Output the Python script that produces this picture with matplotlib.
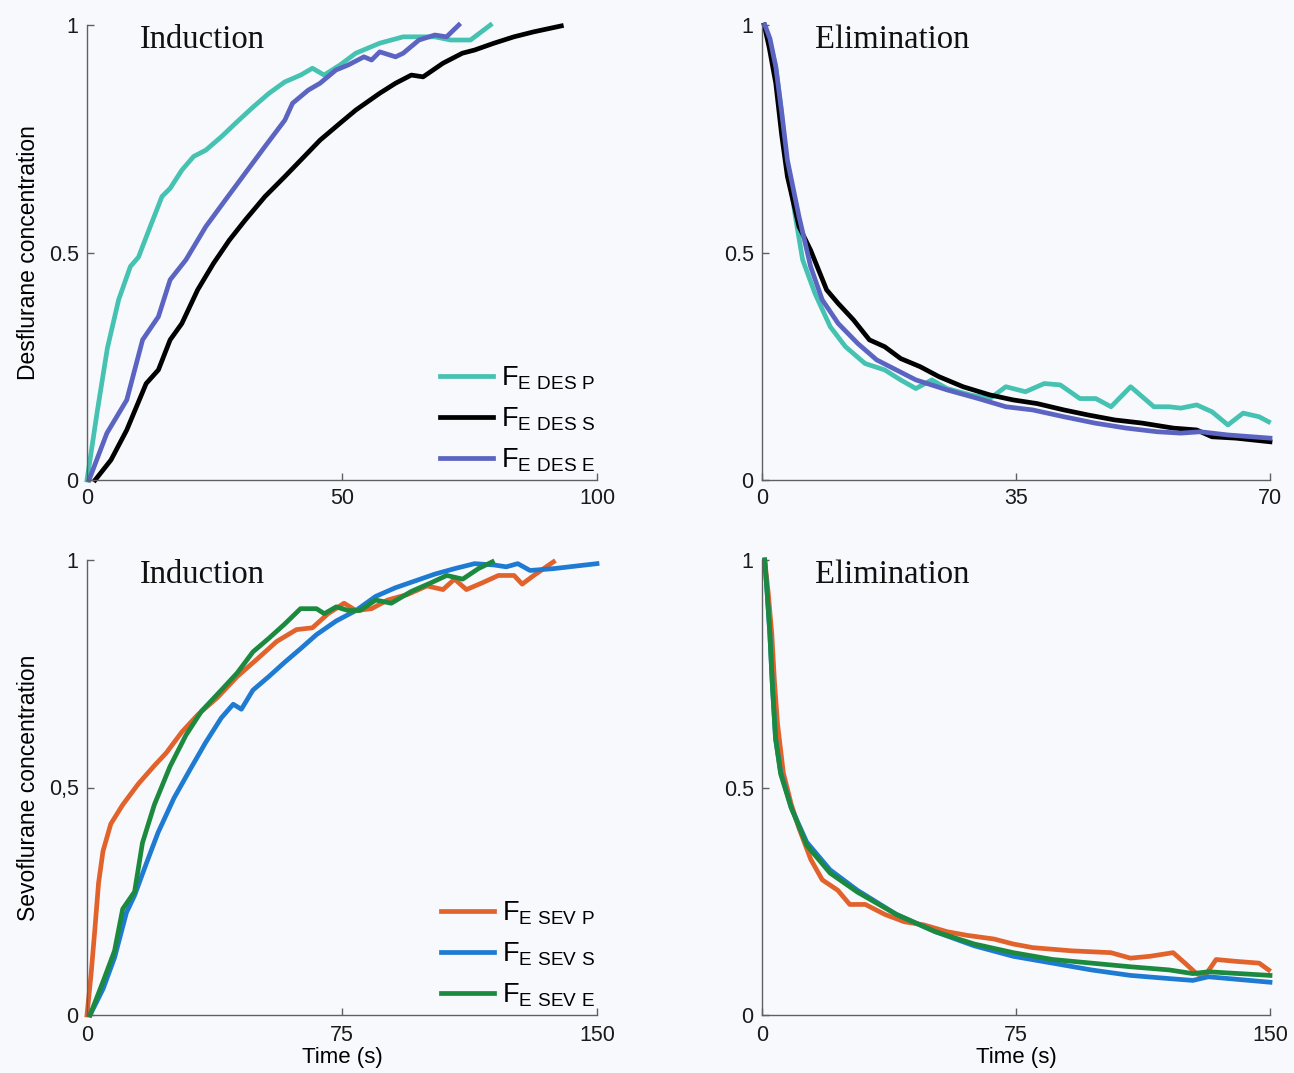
import matplotlib.pyplot as plt
import numpy as np

plt.rcParams['font.family'] = ['Liberation Sans', 'DejaVu Sans']
plt.rcParams['mathtext.fontset'] = 'custom'
plt.rcParams['mathtext.rm'] = 'Liberation Sans'

# ---- desflurane induction ----
des_ind_p_t = [0, 2.0, 4.0, 6.2, 8.5, 10.1, 12.4, 14.7, 16.3, 18.6, 20.9, 23.3, 26.4, 29.5, 32.6, 35.7,
               38.8, 41.9, 44.2, 46.5, 49.6, 52.7, 57.4, 62.0, 68.2, 71.3, 75.2, 79.1]
des_ind_p_y = [0, 0.15, 0.29, 0.396, 0.469, 0.49, 0.557, 0.623, 0.641, 0.681, 0.711, 0.725, 0.755, 0.788,
               0.82, 0.85, 0.875, 0.89, 0.905, 0.89, 0.912, 0.938, 0.96, 0.974, 0.974, 0.967, 0.967, 1.0]
des_ind_s_t = [1.6, 4.7, 7.8, 11.6, 14.0, 16.3, 18.6, 21.7, 24.8, 27.9, 31.0, 34.9, 38.8, 42.6, 45.7,
               49.6, 52.7, 57.4, 60.5, 63.6, 65.9, 69.8, 73.6, 76.0, 79.8, 83.7, 87.6, 93.0]
des_ind_s_y = [0, 0.044, 0.11, 0.212, 0.242, 0.308, 0.344, 0.418, 0.476, 0.527, 0.571, 0.623, 0.667,
               0.711, 0.747, 0.784, 0.813, 0.85, 0.872, 0.89, 0.886, 0.916, 0.938, 0.945, 0.96, 0.974,
               0.985, 0.998]
des_ind_e_t = [0.4, 3.9, 7.8, 10.9, 14.0, 16.3, 19.4, 23.3, 27.1, 31.0, 34.9, 38.8, 40.3, 43.4, 45.7,
               48.8, 51.2, 54.3, 55.8, 57.4, 60.5, 62.0, 65.1, 68.2, 70.5, 72.9]
des_ind_e_y = [0, 0.103, 0.176, 0.308, 0.359, 0.44, 0.484, 0.557, 0.615, 0.674, 0.733, 0.791, 0.828,
               0.857, 0.872, 0.901, 0.912, 0.93, 0.923, 0.941, 0.93, 0.938, 0.967, 0.978, 0.974, 1.0]

# ---- desflurane elimination ----
des_eli_p_t = [0.3, 1.0, 1.9, 2.6, 3.2, 4.6, 5.6, 7.3, 9.4, 11.5, 14.2, 16.9, 19.1, 21.2, 23.4, 25.5,
               28.7, 31.4, 33.6, 36.3, 38.9, 41.1, 43.8, 46.0, 48.1, 50.8, 54.0, 56.1, 57.7, 59.9,
               62.0, 64.2, 66.3, 68.5, 69.8]
des_eli_p_y = [1.0, 0.97, 0.908, 0.82, 0.725, 0.579, 0.484, 0.41, 0.337, 0.293, 0.256, 0.242, 0.22,
               0.201, 0.22, 0.201, 0.187, 0.179, 0.205, 0.194, 0.212, 0.209, 0.179, 0.179, 0.161,
               0.205, 0.161, 0.161, 0.158, 0.165, 0.15, 0.121, 0.147, 0.139, 0.128]
des_eli_s_t = [0.3, 1.0, 1.9, 2.7, 3.5, 5.1, 6.7, 8.9, 10.5, 12.6, 14.8, 16.9, 19.1, 21.8, 24.4, 27.7,
               31.4, 34.6, 37.9, 41.6, 44.9, 48.6, 52.4, 56.7, 59.9, 62.0, 65.3, 70.0]
des_eli_s_y = [1.0, 0.95, 0.872, 0.76, 0.667, 0.557, 0.505, 0.418, 0.388, 0.352, 0.308, 0.293, 0.267,
               0.249, 0.227, 0.205, 0.187, 0.176, 0.168, 0.154, 0.143, 0.132, 0.125, 0.114, 0.11,
               0.095, 0.092, 0.084]
des_eli_e_t = [0.4, 1.1, 1.9, 2.7, 3.5, 5.1, 6.7, 8.3, 10.5, 13.2, 15.8, 18.5, 21.2, 25.5, 29.8, 33.6,
               37.3, 41.6, 45.9, 50.2, 54.5, 57.7, 60.4, 64.2, 70.0]
des_eli_e_y = [1.0, 0.97, 0.908, 0.81, 0.703, 0.579, 0.469, 0.396, 0.344, 0.3, 0.264, 0.242, 0.22,
               0.198, 0.179, 0.161, 0.154, 0.139, 0.125, 0.114, 0.106, 0.103, 0.106, 0.099, 0.092]

# ---- sevoflurane induction ----
sev_ind_p_t = [0, 1.2, 2.3, 3.4, 4.7, 7.0, 10.5, 15.1, 19.8, 23.3, 27.9, 32.6, 38.4, 44.2, 50.0, 55.8,
               61.6, 66.3, 70.9, 75.6, 79.1, 83.7, 88.4, 94.2, 100.0, 104.7, 108.1, 111.6, 116.3,
               121.0, 125.6, 128.0, 131.4, 137.2]
sev_ind_p_y = [0, 0.09, 0.187, 0.29, 0.36, 0.42, 0.462, 0.508, 0.548, 0.576, 0.622, 0.66, 0.698, 0.744,
               0.782, 0.821, 0.847, 0.851, 0.882, 0.905, 0.889, 0.893, 0.912, 0.924, 0.943, 0.935,
               0.958, 0.935, 0.95, 0.966, 0.966, 0.947, 0.966, 0.996]
sev_ind_s_t = [0.9, 4.7, 8.1, 11.6, 14.0, 17.4, 20.9, 25.6, 30.2, 34.9, 39.5, 43.0, 45.4, 48.8, 53.5,
               58.1, 62.8, 67.5, 73.3, 79.1, 84.9, 90.7, 96.5, 102.3, 108.1, 114.0, 119.8, 123.3,
               126.7, 130.3, 137.2, 150.0]
sev_ind_s_y = [0, 0.057, 0.126, 0.225, 0.263, 0.332, 0.401, 0.477, 0.538, 0.599, 0.653, 0.683, 0.672,
               0.714, 0.744, 0.775, 0.805, 0.836, 0.866, 0.889, 0.92, 0.939, 0.954, 0.969, 0.981,
               0.992, 0.989, 0.985, 0.992, 0.977, 0.981, 0.992]
sev_ind_e_t = [0.9, 4.7, 8.1, 10.5, 14.0, 16.3, 19.8, 24.4, 29.1, 33.7, 39.5, 44.2, 48.8, 53.5, 58.1,
               62.8, 67.5, 69.8, 73.3, 76.8, 80.3, 84.9, 89.5, 95.4, 101.2, 105.8, 110.5, 115.1, 119.2]
sev_ind_e_y = [0, 0.073, 0.141, 0.233, 0.271, 0.378, 0.462, 0.546, 0.615, 0.668, 0.714, 0.752, 0.798,
               0.828, 0.859, 0.893, 0.893, 0.882, 0.897, 0.889, 0.889, 0.912, 0.905, 0.931, 0.95,
               0.966, 0.958, 0.981, 0.996]

# ---- sevoflurane elimination ----
sev_eli_p_t = [0.8, 1.8, 2.9, 3.7, 4.6, 6.3, 8.6, 10.9, 14.4, 17.8, 22.4, 25.9, 30.5, 36.3, 42.0, 47.8,
               54.7, 60.6, 68.5, 74.2, 80.0, 91.5, 103.0, 108.8, 114.5, 121.4, 124.9, 128.3, 130.6,
               134.1, 139.8, 146.8, 149.6]
sev_eli_p_y = [1.0, 0.93, 0.837, 0.73, 0.639, 0.532, 0.464, 0.411, 0.342, 0.297, 0.274, 0.243, 0.243,
               0.221, 0.205, 0.198, 0.183, 0.175, 0.167, 0.156, 0.148, 0.141, 0.137, 0.125, 0.129,
               0.137, 0.114, 0.091, 0.084, 0.122, 0.118, 0.114, 0.099]
sev_eli_s_t = [0.8, 1.5, 2.3, 3.1, 4.0, 5.5, 8.6, 13.2, 20.1, 28.2, 39.7, 51.2, 62.7, 74.2, 85.8, 97.3,
               108.8, 120.3, 127.2, 131.8, 150.0]
sev_eli_s_y = [1.0, 0.93, 0.84, 0.72, 0.608, 0.535, 0.456, 0.38, 0.319, 0.274, 0.221, 0.183, 0.152,
               0.129, 0.114, 0.099, 0.087, 0.08, 0.076, 0.084, 0.072]
sev_eli_e_t = [0.8, 1.5, 2.3, 3.1, 4.0, 5.5, 8.6, 13.2, 20.1, 28.2, 39.7, 51.2, 62.7, 74.2, 85.8, 97.3,
               108.8, 120.3, 127.2, 131.8, 150.0]
sev_eli_e_y = [1.0, 0.93, 0.84, 0.72, 0.608, 0.53, 0.456, 0.373, 0.312, 0.27, 0.221, 0.183, 0.156,
               0.137, 0.122, 0.114, 0.106, 0.099, 0.091, 0.095, 0.087]

des_labels = [r'$\mathrm{F}_{\mathrm{E\ DES\ P}}$', r'$\mathrm{F}_{\mathrm{E\ DES\ S}}$',
              r'$\mathrm{F}_{\mathrm{E\ DES\ E}}$']
sev_labels = [r'$\mathrm{F}_{\mathrm{E\ SEV\ P}}$', r'$\mathrm{F}_{\mathrm{E\ SEV\ S}}$',
              r'$\mathrm{F}_{\mathrm{E\ SEV\ E}}$']
des_colors = ['#45c2b1', '#000000', '#5c64c2']
sev_colors = ['#e2622c', '#1f7bd2', '#1c8a3e']

bg = '#f8f9fd'
lw = 3.4


def setup_axes(ax, xmax, xticks, yticklabels, title):
    ax.set_facecolor(bg)
    ax.set_xlim(0, xmax)
    ax.set_ylim(0, 1)
    for s in ['top', 'right']:
        ax.spines[s].set_visible(False)
    for s in ['left', 'bottom']:
        ax.spines[s].set_color('#606060')
        ax.spines[s].set_linewidth(1.0)
    ax.set_xticks(xticks)
    ax.set_yticks([0, 0.5, 1])
    ax.set_yticklabels(yticklabels)
    ax.tick_params(direction='in', length=5, width=1, color='#606060', labelsize=15.5,
                   labelcolor='#1a1a1a', pad=6)
    ax.text(0.104, 0.968, title, transform=ax.transAxes, family='Liberation Serif',
            fontsize=23.5, va='center', ha='left', color='#111111')


def draw(ax, series, colors, labels=None):
    for (t, y), c, lab in zip(series, colors, labels or [None] * 3):
        ax.plot(t, y, color=c, lw=lw, label=lab, clip_on=False, solid_joinstyle='round')
    if labels:
        ax.legend(loc='lower right', bbox_to_anchor=(1.045, -0.04), frameon=False, fontsize=19.5,
                  handlelength=1.95, handletextpad=0.3, labelspacing=0.5)


fig = plt.figure(figsize=(12.94, 10.73), dpi=100, facecolor=bg)
ax1 = fig.add_axes([87 / 1294, 1 - 480 / 1073, 510 / 1294, 455 / 1073])
ax2 = fig.add_axes([762 / 1294, 1 - 480 / 1073, 508 / 1294, 455 / 1073])
ax3 = fig.add_axes([87 / 1294, 1 - 1015 / 1073, 510 / 1294, 455 / 1073])
ax4 = fig.add_axes([762 / 1294, 1 - 1015 / 1073, 508 / 1294, 455 / 1073])

setup_axes(ax1, 100, [0, 50, 100], ['0', '0.5', '1'], 'Induction')
setup_axes(ax2, 70, [0, 35, 70], ['0', '0.5', '1'], 'Elimination')
setup_axes(ax3, 150, [0, 75, 150], ['0', '0,5', '1'], 'Induction')
setup_axes(ax4, 150, [0, 75, 150], ['0', '0.5', '1'], 'Elimination')

draw(ax1, [(des_ind_p_t, des_ind_p_y), (des_ind_s_t, des_ind_s_y), (des_ind_e_t, des_ind_e_y)],
     des_colors, des_labels)
draw(ax2, [(des_eli_p_t, des_eli_p_y), (des_eli_s_t, des_eli_s_y), (des_eli_e_t, des_eli_e_y)],
     des_colors)
draw(ax3, [(sev_ind_p_t, sev_ind_p_y), (sev_ind_s_t, sev_ind_s_y), (sev_ind_e_t, sev_ind_e_y)],
     sev_colors, sev_labels)
draw(ax4, [(sev_eli_p_t, sev_eli_p_y), (sev_eli_s_t, sev_eli_s_y), (sev_eli_e_t, sev_eli_e_y)],
     sev_colors)

ax1.set_ylabel('Desflurane concentration', fontsize=16.5, labelpad=6)
ax3.set_ylabel('Sevoflurane concentration', fontsize=16.5, labelpad=6)
for ax in (ax3, ax4):
    ax.tick_params(axis='x', pad=7)
    ax.set_xlabel('Time (s)', fontsize=16, labelpad=1)

fig.savefig('out.png', dpi=100, facecolor=bg)
